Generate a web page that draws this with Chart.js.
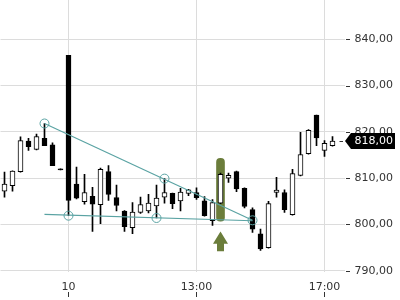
<!DOCTYPE html>
<html>
<head>
<meta charset="utf-8">
<script src="https://cdn.jsdelivr.net/npm/chart.js@4/dist/chart.umd.min.js"></script>
<style>
html,body{margin:0;padding:0;background:#fff;}
canvas{display:block;}
</style>
</head>
<body>
<canvas id="c" width="400" height="300"></canvas>
<script>
// ---- data ----
const categories = [
  '9 15:30','9 15:45','9 16:00','9 16:15','9 16:30','9 16:45','9 17:00','9 17:15',
  '10 09:00','10 09:15','10 09:30','10 09:45','10 10:00','10 10:15','10 10:30','10 10:45',
  '10 11:00','10 11:15','10 11:30','10 11:45','10 12:00','10 12:15','10 12:30','10 12:45',
  '10 13:00','10 13:15','10 13:30','10 13:45','10 14:00','10 14:15','10 14:30','10 14:45',
  '10 15:00','10 15:15','10 15:30','10 15:45','10 16:00','10 16:15','10 16:30','10 16:45',
  '10 17:00','10 17:15','10 17:30'
];
const openP  = [807.2,808.4,811.4,818.0,816.2,818.6,817.2,812.0,836.5,808.7,804.9,806.1,804.3,811.4,805.8,802.9,799.3,802.6,802.9,804.0,805.9,806.7,805.1,806.7,806.9,805.1,800.8,804.6,810.0,811.4,807.8,803.2,798.0,795.0,806.9,806.9,802.1,810.6,815.3,823.6,816.0,817.0];
const highP  = [811.3,811.6,818.9,818.6,819.5,821.8,817.6,812.0,836.5,812.4,810.8,808.0,812.2,812.7,808.5,803.0,804.7,805.9,806.5,808.5,809.9,806.8,807.8,807.6,807.9,806.0,805.4,811.1,811.1,811.5,807.9,803.6,799.0,805.0,810.2,807.5,811.9,819.9,820.5,823.6,818.1,819.0];
const lowP   = [805.9,807.2,811.3,816.0,816.1,817.0,812.7,811.8,801.9,805.5,804.4,798.5,800.2,805.2,802.9,798.5,798.0,802.4,802.5,801.4,804.6,803.4,802.9,806.2,805.4,801.8,799.8,804.5,809.1,807.1,803.6,798.3,794.4,794.9,805.9,802.6,802.0,810.5,815.2,817.0,814.7,816.9];
const closeP = [808.7,811.5,818.1,816.8,819.0,817.0,812.7,811.8,805.2,805.7,806.9,804.4,811.9,806.5,804.1,799.5,802.7,804.3,804.6,805.7,806.9,804.5,807.0,807.5,805.8,801.9,804.7,810.8,810.6,807.7,803.9,799.0,794.7,804.5,807.4,803.2,811.0,815.1,820.3,818.7,817.5,818.0];
const lastPrice = 818.00;

// trend lines: [category index, value]
const trendUpper = [[5, 821.8], [31, 800.9]];
const trendLower = [[5, 802.2], [31, 800.8]];
const markers    = [[5, 821.8], [8, 801.9], [19, 801.4], [20, 809.9], [31, 800.9]];

// highlighted candle and arrow
const highlightIndex = 27;
const highlightRange = [800.7, 814.3];
const arrowValues = {tip: 798.5, headBase: 796.9, bottom: 794.2};

const yTicks = [790, 800, 810, 820, 830, 840];
const xTickAt = ['10 09:00', '10 13:00', '10 17:00'];
const xTickText = ['10', '13:00', '17:00'];

// ---- build datasets ----
const n = categories.length;
function sparse(points) {
  const a = new Array(n).fill(null);
  points.forEach(p => { a[p[0]] = p[1]; });
  return a;
}
const wickData = openP.map((o, i) => [lowP[i], highP[i]]);
const bodyData = openP.map((o, i) => [o, closeP[i]]);
const bodyColors = openP.map((o, i) => closeP[i] > o ? '#ffffff' : '#000000');
const hlData = new Array(n).fill(null);
hlData[highlightIndex] = highlightRange;

const TEAL = '#5aa3a3';
const OLIVE = '#6b7d3b';
const TXT = '#333333';
const GRID = '#dcdcdc';

Chart.defaults.font.family = 'DejaVu Sans';
Chart.defaults.font.size = 11;

const overlay = {
  id: 'overlay',
  afterDraw(chart) {
    const ctx = chart.ctx;
    const xs = chart.scales.x, ys = chart.scales.y;
    const ca = chart.chartArea;
    ctx.save();
    // y-axis tick dashes
    ctx.strokeStyle = TXT;
    ctx.lineWidth = 1;
    ys.ticks.forEach(t => {
      const y = Math.round(ys.getPixelForValue(t.value)) + 0.5;
      ctx.beginPath();
      ctx.moveTo(ca.right + 1.5, y);
      ctx.lineTo(ca.right + 5.5, y);
      ctx.stroke();
    });
    // x-axis tick marks below labels
    xs.ticks.forEach(t => {
      const x = Math.round(xs.getPixelForValue(t.value) - 0.5) + 0.5;
      ctx.beginPath();
      ctx.moveTo(x, 292);
      ctx.lineTo(x, 297);
      ctx.stroke();
    });
    // green arrow under highlighted candle
    const ax = xs.getPixelForValue(highlightIndex);
    const yTip = ys.getPixelForValue(arrowValues.tip);
    const yHead = ys.getPixelForValue(arrowValues.headBase);
    const yBot = ys.getPixelForValue(arrowValues.bottom);
    ctx.fillStyle = OLIVE;
    ctx.beginPath();
    ctx.moveTo(ax, yTip);
    ctx.lineTo(ax + 7.5, yHead + 5);
    ctx.lineTo(ax + 3.5, yHead + 5);
    ctx.lineTo(ax + 3.5, yBot);
    ctx.lineTo(ax - 3.5, yBot);
    ctx.lineTo(ax - 3.5, yHead + 5);
    ctx.lineTo(ax - 7.5, yHead + 5);
    ctx.closePath();
    ctx.fill();
    // last price tag
    const py = ys.getPixelForValue(lastPrice);
    ctx.strokeStyle = TXT;
    ctx.beginPath();
    ctx.moveTo(ca.right - 5, Math.round(py) + 0.5);
    ctx.lineTo(ca.right - 1.5, Math.round(py) + 0.5);
    ctx.stroke();
    ctx.fillStyle = '#000';
    ctx.beginPath();
    ctx.moveTo(ca.right + 0.5, py);
    ctx.lineTo(ca.right + 6.5, py - 8);
    ctx.lineTo(395, py - 8);
    ctx.lineTo(395, py + 8);
    ctx.lineTo(ca.right + 6.5, py + 8);
    ctx.closePath();
    ctx.fill();
    ctx.fillStyle = '#fff';
    ctx.font = '11px "DejaVu Sans"';
    ctx.textAlign = 'left';
    ctx.textBaseline = 'middle';
    ctx.fillText(lastPrice.toFixed(2).replace('.', ','), ca.right + 10, py);
    ctx.restore();
  }
};

new Chart(document.getElementById('c'), {
  type: 'bar',
  data: {
    labels: categories,
    datasets: [
      { type: 'line', data: sparse(trendUpper), spanGaps: true, borderColor: TEAL, borderWidth: 1.2, pointRadius: 0, order: 0 },
      { type: 'line', data: sparse(trendLower), spanGaps: true, borderColor: TEAL, borderWidth: 1.2, pointRadius: 0, order: 0 },
      { type: 'line', data: sparse(markers), showLine: false, pointRadius: 4.5, pointBorderWidth: 1,
        pointBorderColor: TEAL, pointBackgroundColor: 'rgba(0,0,0,0)', order: 0 },
      { data: bodyData, backgroundColor: bodyColors, borderColor: '#000', borderWidth: 1,
        borderSkipped: false, barThickness: 5, grouped: false, order: 1 },
      { data: wickData, backgroundColor: '#000', borderWidth: 0, barThickness: 1, grouped: false, order: 2 },
      { data: hlData, backgroundColor: OLIVE, borderWidth: 0, borderRadius: 4, borderSkipped: false,
        barThickness: 8, grouped: false, order: 3 }
    ]
  },
  options: {
    responsive: false,
    animation: false,
    devicePixelRatio: 1,
    layout: { autoPadding: false, padding: { left: 0.5, top: 0, right: 0, bottom: 0 } },
    plugins: { legend: { display: false }, tooltip: { enabled: false } },
    scales: {
      x: {
        type: 'category',
        offset: true,
        grid: { offset: false, color: GRID, drawTicks: false },
        border: { display: false },
        ticks: {
          autoSkip: false, maxRotation: 0, padding: 9, color: TXT,
          callback: function (v) {
            const k = xTickAt.indexOf(categories[v]);
            return k >= 0 ? xTickText[k] : '';
          }
        },
        afterBuildTicks: s => { s.ticks = xTickAt.map(c => ({ value: categories.indexOf(c) })); },
        afterFit: s => { s.height = 28; s.paddingLeft = 0; s.paddingRight = 0; }
      },
      y: {
        type: 'linear',
        position: 'right',
        min: 789.74,
        max: 848.46,
        grid: { color: GRID, drawTicks: false },
        border: { display: false },
        ticks: { padding: 10, color: TXT, callback: v => v.toFixed(2).replace('.', ',') },
        afterBuildTicks: s => { s.ticks = yTicks.map(v => ({ value: v })); },
        afterFit: s => { s.width = 55.5; s.paddingTop = 0; s.paddingBottom = 0; }
      }
    }
  },
  plugins: [overlay]
});
</script>
</body>
</html>
